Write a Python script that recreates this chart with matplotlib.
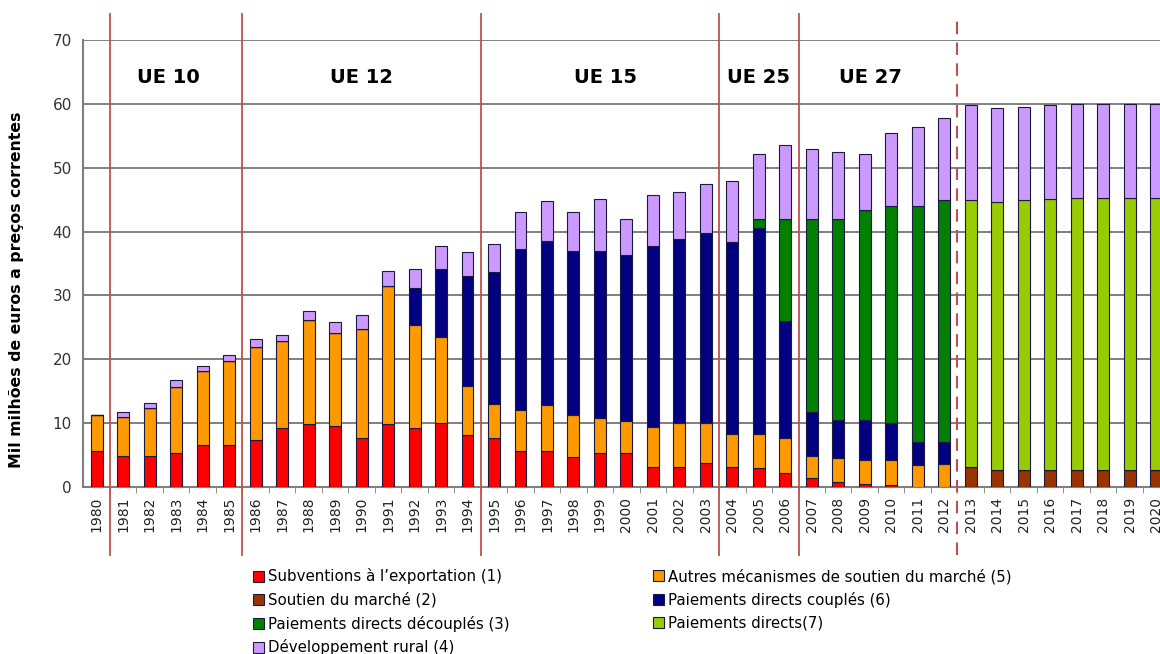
import matplotlib.pyplot as plt
import numpy as np

years = list(range(1980, 2021))

# values in mil milhões de euros
export_sub = [5.7, 4.9, 4.9, 5.4, 6.6, 6.6, 7.3, 9.3, 9.9, 9.6, 7.7, 9.9, 9.3, 10.1, 8.1,
              7.7, 5.7, 5.7, 4.7, 5.4, 5.4, 3.2, 3.2, 3.75, 3.1, 3.0, 2.2, 1.4, 0.8, 0.5,
              0.3, 0, 0, 0, 0, 0, 0, 0, 0, 0, 0]
soutien = [0] * 33 + [3.1, 2.6, 2.6, 2.6, 2.6, 2.6, 2.6, 2.6]
autres = [5.5, 6.0, 7.4, 10.3, 11.5, 13.1, 14.7, 13.5, 16.3, 14.5, 17.1, 21.5, 16.0, 13.4, 7.7,
          5.3, 6.3, 7.1, 6.5, 5.4, 5.0, 6.2, 6.8, 6.25, 5.2, 5.3, 5.5, 3.5, 3.7, 3.7,
          4.0, 3.4, 3.6, 0, 0, 0, 0, 0, 0, 0, 0]
couples = [0] * 12 + [5.8, 10.6, 17.2,
                      20.7, 25.2, 25.7, 25.8, 26.2, 25.9, 28.3, 28.8, 29.7, 30.1, 32.2, 18.3,
                      6.8, 6.0, 6.3, 5.8, 3.6, 3.4] + [0] * 8
decouples = [0] * 25 + [1.4, 15.9, 30.2, 31.4, 32.9, 33.9, 37.0, 37.9] + [0] * 8
directs = [0] * 33 + [41.8, 42.0, 42.3, 42.5, 42.7, 42.7, 42.7, 42.7]
rural = [0.0, 0.8, 0.8, 1.0, 0.8, 1.0, 1.2, 1.0, 1.4, 1.7, 2.1, 2.5, 3.1, 3.7, 3.8,
         4.3, 5.8, 6.3, 6.0, 8.1, 5.6, 8.0, 7.4, 7.7, 9.5, 10.3, 11.6, 11.0, 10.6, 8.7,
         11.5, 12.4, 12.9, 14.9, 14.7, 14.6, 14.7, 14.6, 14.7, 14.7, 14.7]

series = [
    (export_sub, '#ff0000', 'Subventions à l\u2019exportation (1)'),
    (soutien, '#993300', 'Soutien du marché (2)'),
    (autres, '#ff9900', 'Autres mécanismes de soutien du marché (5)'),
    (couples, '#000080', 'Paiements directs couplés (6)'),
    (decouples, '#008000', 'Paiements directs découplés (3)'),
    (directs, '#99cc00', 'Paiements directs(7)'),
    (rural, '#cc99ff', 'Développement rural (4)'),
]

eras = ['UE 10', 'UE 12', 'UE 15', 'UE 25', 'UE 27']
era_x = [1982.7, 1990.0, 1999.2, 2005.0, 2009.2]
borders = [1980.5, 1985.5, 1994.5, 2003.5, 2006.5]

fig = plt.figure(figsize=(11.6, 6.54), dpi=100)
ax = fig.add_axes([83 / 1160, 1 - 487 / 654, 1 - 83 / 1160, 447 / 654])

bottom = np.zeros(len(years))
handles = {}
for vals, col, lab in series:
    v = np.array(vals, dtype=float)
    b = ax.bar(years, v, width=0.45, bottom=bottom, color=col, edgecolor='#1a1a40',
               linewidth=0.8, label=lab, zorder=3)
    handles[lab] = b
    bottom += v

ax.set_xlim(1979.48, 2020.15)
ax.set_ylim(0, 70)
ax.set_yticks(range(0, 71, 10))
ax.yaxis.grid(True, color='#7f7f7f', linewidth=1.4, zorder=0)
ax.tick_params(axis='y', length=0, labelsize=11, labelcolor='#333333', pad=8)
ax.set_xticks(years)
ax.set_xticklabels([str(y) for y in years], rotation=90, fontsize=10, color='#222222')
ax.set_xticks(np.arange(1980.5, 2020, 1), minor=True)
ax.tick_params(axis='x', which='major', length=0, pad=7)
ax.tick_params(axis='x', which='minor', length=4, color='#7f7f7f')
for s in ['top', 'right']:
    ax.spines[s].set_visible(False)
ax.spines['left'].set_color('#7f7f7f')
ax.spines['left'].set_linewidth(1.5)
ax.spines['bottom'].set_color('#7f7f7f')
ax.spines['bottom'].set_linewidth(1.5)

for bx in borders:
    ax.axvline(bx, ymin=-0.152, ymax=1.058, color='#c0504d', linewidth=1.3,
               clip_on=False, zorder=4)
ax.axvline(2012.5, ymin=-0.152, ymax=1.058, color='#c0504d', linewidth=1.5,
           linestyle=(0, (6, 4)), clip_on=False, zorder=4)

for t, x in zip(eras, era_x):
    ax.text(x, 64.2, t, ha='center', va='center', fontsize=14, fontweight='bold')

fig.text(17 / 1160, 1 - 290 / 654, 'Mil milhões de euros a preços correntes',
         rotation=90, ha='center', va='center', fontsize=11.3, fontweight='bold')

col1 = [series[i][2] for i in [0, 1, 4, 6]]
col2 = [series[i][2] for i in [2, 3, 5]]
kw = dict(loc='upper left', frameon=False, fontsize=10.8, handlelength=0.75,
          handleheight=0.75, handletextpad=0.3, labelspacing=0.52, borderpad=0)
fig.legend([handles[l] for l in col1], col1,
           bbox_to_anchor=(245 / 1160, 1 - 561 / 654), **kw)
fig.legend([handles[l] for l in col2], col2,
           bbox_to_anchor=(645 / 1160, 1 - 561 / 654), **kw)

plt.savefig('out.png', dpi=100)
